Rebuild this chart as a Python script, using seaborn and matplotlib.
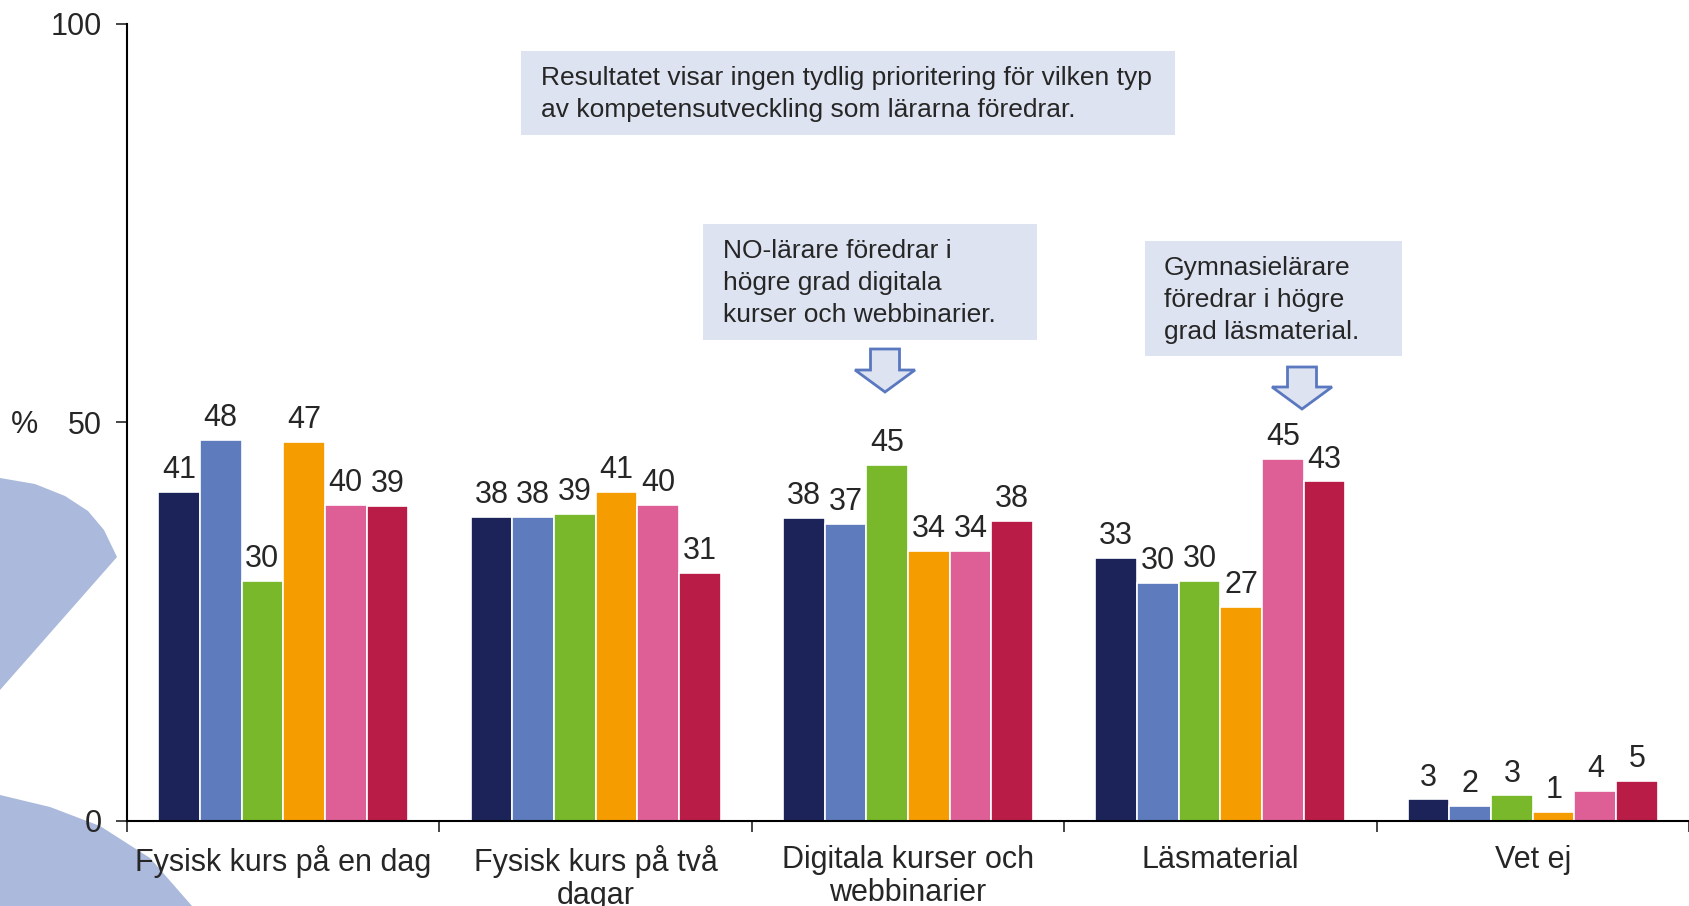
import numpy as np
import pandas as pd
import seaborn as sns
import matplotlib.pyplot as plt
from matplotlib.patches import Polygon, Rectangle

sns.set_style("white")
plt.rcParams["font.family"] = ["Liberation Sans", "DejaVu Sans"]

# Data (percent)
categories = [
    "Fysisk kurs på en dag",
    "Fysisk kurs på två\ndagar",
    "Digitala kurser och\nwebbinarier",
    "Läsmaterial",
    "Vet ej",
]
groups = ["Grupp 1", "Grupp 2", "Grupp 3", "Grupp 4", "Grupp 5", "Grupp 6"]
grupp_1 = [41.3, 38.2, 38.0, 33.0, 2.7]
grupp_2 = [47.8, 38.2, 37.3, 29.9, 1.9]
grupp_3 = [30.1, 38.5, 44.7, 30.1, 3.2]
grupp_4 = [47.6, 41.3, 33.9, 26.8, 1.1]
grupp_5 = [39.7, 39.7, 33.9, 45.4, 3.8]
grupp_6 = [39.5, 31.1, 37.7, 42.6, 5.0]
labels = [
    [41, 38, 38, 33, 3],
    [48, 38, 37, 30, 2],
    [30, 39, 45, 30, 3],
    [47, 41, 34, 27, 1],
    [40, 40, 34, 45, 4],
    [39, 31, 38, 43, 5],
]
colors = ["#1b2359", "#5e7bbd", "#78b82a", "#f59c00", "#de5f96", "#b91d47"]

series = [grupp_1, grupp_2, grupp_3, grupp_4, grupp_5, grupp_6]
df = pd.DataFrame(
    [(c, g, v) for g, vals in zip(groups, series) for c, v in zip(categories, vals)],
    columns=["kategori", "grupp", "andel"],
)

W, H = 1689, 906
fig = plt.figure(figsize=(W / 100, H / 100), dpi=100)


def px(x, y):
    # pixel position (top-left origin) -> figure fraction
    return (x / W, 1 - y / H)


# Decorative background shapes on the left edge
shape_col = "#aab9dc"
shape1 = [(0, 478), (35, 484), (65, 496), (88, 511), (104, 530), (117, 557), (0, 690)]
shape2 = [(0, 795), (50, 807), (100, 826), (150, 858), (192, 906), (0, 906)]
for pts in (shape1, shape2):
    fig.patches.append(Polygon([px(*p) for p in pts], closed=True, transform=fig.transFigure,
                               facecolor=shape_col, edgecolor="none", zorder=-1))

ax = fig.add_axes([127 / W, 1 - 821 / H, 1 - 127 / W, (821 - 24) / H])
ax.set_facecolor("none")

sns.barplot(
    data=df, x="kategori", y="andel", hue="grupp",
    palette=colors, saturation=1, width=0.8, edgecolor="white", linewidth=1.2,
    legend=False, ax=ax,
)

for cont, lab in zip(ax.containers, labels):
    ax.bar_label(cont, labels=[str(v) for v in lab], padding=5, fontsize=22)

ax.set_ylim(0, 100)
ax.set_xlim(-0.5, 4.5)
ax.set_yticks([0, 50, 100])
ax.tick_params(axis="y", labelsize=22, length=8, width=1.2, direction="out", pad=10, left=True)
ax.set_xticks(np.arange(len(categories)))
ax.set_xticklabels(categories, fontsize=22, linespacing=1.15)
ax.tick_params(axis="x", length=0, pad=17)
ax.set_xticks(np.arange(-0.5, 4.6, 1), minor=True)
ax.tick_params(axis="x", which="minor", length=8, width=1.2, direction="out", bottom=True)
ax.set_xlabel("")
ax.set_ylabel("")

for s in ("top", "right"):
    ax.spines[s].set_visible(False)
for s in ("left", "bottom"):
    ax.spines[s].set_linewidth(1.5)
    ax.spines[s].set_color("black")

fig.text(*px(24, 425), "%", fontsize=22, ha="center", va="center")

# Comment boxes
box_col = "#dde3f0"
boxes = [
    ((521, 51, 1175, 135), (541, 94),
     "Resultatet visar ingen tydlig prioritering för vilken typ\nav kompetensutveckling som lärarna föredrar."),
    ((703, 224, 1037, 340), (723, 283),
     "NO-lärare föredrar i\nhögre grad digitala\nkurser och webbinarier."),
    ((1145, 241, 1402, 356), (1164, 300),
     "Gymnasielärare\nföredrar i högre\ngrad läsmaterial."),
]
for (x0, y0, x1, y1), (tx, ty), txt in boxes:
    fig.patches.append(Rectangle(px(x0, y1), (x1 - x0) / W, (y1 - y0) / H,
                                 transform=fig.transFigure, facecolor=box_col,
                                 edgecolor="none", zorder=1))
    fig.text(*px(tx, ty), txt, fontsize=19, ha="left", va="center", linespacing=1.4, zorder=2)

# Block arrows pointing down
for cx, top, shoulder, tip in [(885, 349, 370, 392), (1302, 367, 387, 409)]:
    pts = [(cx - 14.5, top), (cx + 14.5, top), (cx + 14.5, shoulder), (cx + 30, shoulder),
           (cx, tip), (cx - 30, shoulder), (cx - 14.5, shoulder)]
    fig.patches.append(Polygon([px(*p) for p in pts], closed=True, transform=fig.transFigure,
                               facecolor=box_col, edgecolor="#5a78c0", linewidth=2, zorder=2))

fig.savefig("out.png", dpi=100)
